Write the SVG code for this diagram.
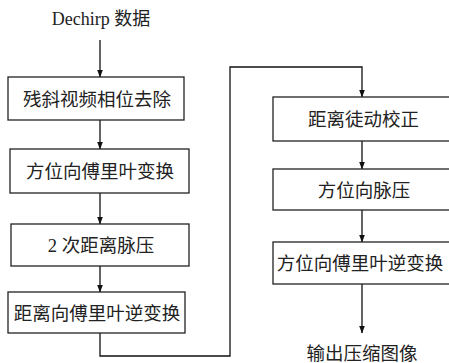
<svg xmlns="http://www.w3.org/2000/svg" width="449" height="363" viewBox="0 0 449 363">
<style>
.box{fill:#fff;stroke:#222;stroke-width:1.3}
.t{font-family:"Liberation Serif","Noto Sans CJK SC",serif;font-size:18.5px;fill:#222;text-anchor:middle}
.c{fill:none;stroke:#111;stroke-width:1.3}
</style>
<defs>
<marker id="ah" markerWidth="8" markerHeight="8" refX="7.5" refY="3" orient="auto" markerUnits="userSpaceOnUse">
<path d="M0,0 L8,3 L0,6 Z" fill="#111"/>
</marker>
</defs>
<rect width="449" height="363" fill="#fff"/>
<g id="connectors">
<line class="c" x1="100" y1="40" x2="100" y2="77" marker-end="url(#ah)"/>
<line class="c" x1="100" y1="120" x2="100" y2="149" marker-end="url(#ah)"/>
<line class="c" x1="100" y1="193" x2="100" y2="224" marker-end="url(#ah)"/>
<line class="c" x1="100" y1="266" x2="100" y2="292" marker-end="url(#ah)"/>
<polyline class="c" points="100,333 100,356 230,356 230,67 362,67 362,97" marker-end="url(#ah)"/>
<line class="c" x1="362" y1="141" x2="362" y2="169" marker-end="url(#ah)"/>
<line class="c" x1="362" y1="210" x2="362" y2="242" marker-end="url(#ah)"/>
<line class="c" x1="362" y1="284" x2="362" y2="333" marker-end="url(#ah)"/>
</g>
<g id="input"><text class="t" x="101" y="25" style="font-size:18px">Dechirp 数据</text></g>
<g id="n1"><rect class="box" x="8" y="77" width="176" height="43"/><text class="t" x="97" y="105.5">残斜视频相位去除</text></g>
<g id="n2"><rect class="box" x="10" y="149" width="179" height="44"/><text class="t" x="100" y="178">方位向傅里叶变换</text></g>
<g id="n3"><rect class="box" x="11" y="224" width="178" height="42"/><text class="t" x="101" y="252">2 次距离脉压</text></g>
<g id="n4"><rect class="box" x="8" y="292" width="177" height="41"/><text class="t" x="97" y="319.5">距离向傅里叶逆变换</text></g>
<g id="n5"><rect class="box" x="273" y="97" width="182" height="44"/><text class="t" x="363.5" y="126">距离徒动校正</text></g>
<g id="n6"><rect class="box" x="273" y="169" width="182" height="41"/><text class="t" x="364" y="196.5">方位向脉压</text></g>
<g id="n7"><rect class="box" x="273" y="242" width="182" height="42"/><text class="t" x="360" y="270">方位向傅里叶逆变换</text></g>
<g id="output"><text class="t" x="362" y="359.5">输出压缩图像</text></g>
</svg>
